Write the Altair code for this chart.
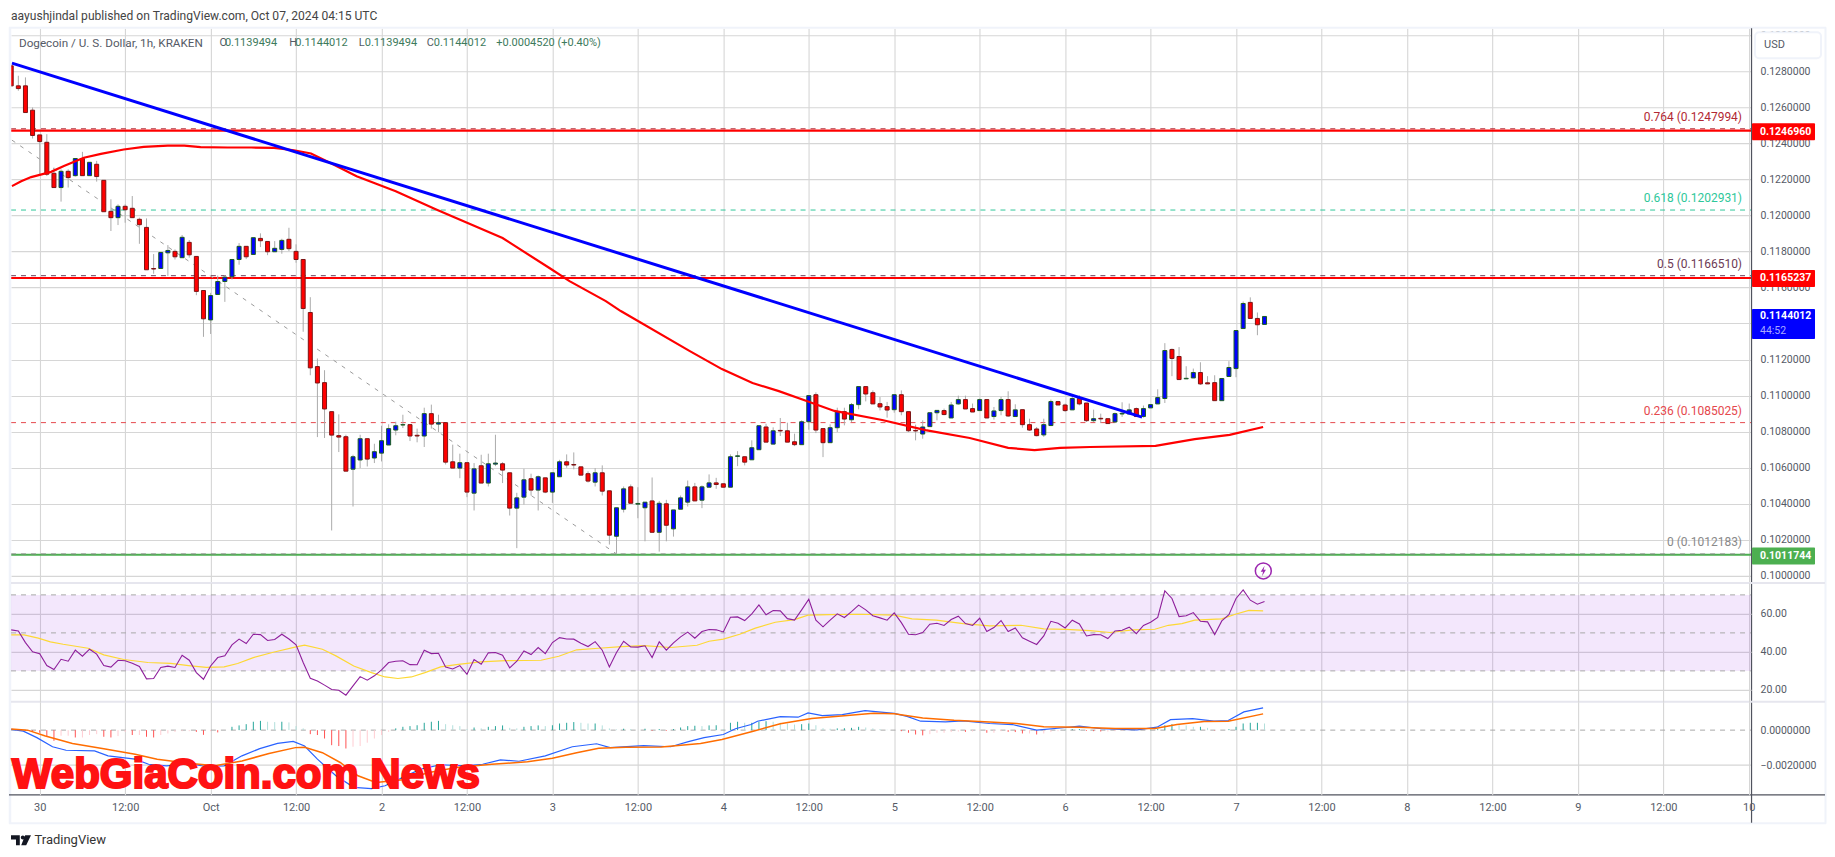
import altair as alt
import pandas as pd

# ---- candles, price x 1e5, one per hour from hour -4 (hours counted from Sep 30 00:00)
opens = [12829,12718,12718,12583,12446,12405,12233,12154,12244,12220,12315,12220,12283,12194,12022,11987,12050,12039,11978,11933,11705,11705,11792,11800,11765,11850,11772,11583,11420,11561,11633,11659,11755,11828,11783,11872,11855,11798,11811,11867,11800,11755,11461,11161,11072,10911,10778,10772,10592,10643,10761,10654,10681,10726,10809,10837,10839,10780,10776,10900,10842,10850,10633,10598,10628,10459,10611,10515,10620,10622,10572,10376,10437,10539,10476,10544,10465,10550,10633,10618,10605,10567,10520,10572,10472,10220,10370,10494,10398,10378,10416,10242,10400,10261,10370,10409,10494,10420,10492,10516,10511,10492,10663,10661,10644,10700,10826,10731,10807,10805,10744,10728,10855,11005,10817,10739,10822,10911,10866,10950,11050,11016,10955,10939,10922,11005,10911,10807,10787,10828,10905,10917,10876,10954,10978,10928,10917,10978,10884,10917,10978,10884,10922,10839,10815,10782,10834,10967,10948,10921,10984,10959,10861,10874,10872,10854,10898,10898,10928,10884,10932,10954,10984,11256,11217,11093,11098,11128,11071,11072,10972,11106,11150,11372,11517,11428,11395]
highs = [12829,12774,12765,12598,12446,12450,12265,12255,12255,12315,12352,12294,12302,12194,12089,12061,12061,12107,11987,11983,11785,11794,11835,11811,11891,11863,11772,11583,11570,11666,11668,11755,11846,11828,11876,11900,11855,11857,11870,11931,11839,11755,11546,11206,11141,10911,10896,10783,10672,10783,10761,10733,10833,10841,10855,10894,10839,10817,10933,10950,10894,10850,10728,10678,10628,10626,10672,10678,10783,10631,10572,10461,10594,10567,10557,10544,10572,10644,10674,10685,10605,10580,10598,10613,10472,10378,10496,10507,10492,10409,10546,10416,10422,10366,10446,10529,10516,10502,10563,10544,10511,10674,10692,10661,10752,10833,10844,10824,10876,10850,10789,10863,11000,11018,10817,10841,10933,10933,10959,11050,11050,11029,10992,10965,11005,11029,10911,10839,10863,10905,10918,10928,10965,11000,11000,10956,10984,10978,10937,10993,11024,10952,10922,10872,10826,10872,10978,10971,10956,11002,11002,10959,10922,10900,10872,10906,10963,10956,10934,10945,10950,11035,11291,11261,11269,11163,11150,11185,11108,11113,11095,11191,11361,11522,11545,11461,11439]
lows = [12718,12691,12570,12426,12228,12218,12154,12076,12154,12215,12220,12220,12187,12020,11913,11946,11959,11987,11842,11698,11676,11704,11663,11755,11765,11765,11557,11326,11342,11561,11520,11644,11726,11757,11783,11824,11779,11798,11787,11802,11737,11354,11113,10770,10765,10252,10687,10581,10385,10598,10607,10626,10635,10726,10780,10820,10748,10741,10715,10817,10798,10618,10598,10542,10437,10363,10515,10496,10609,10515,10335,10154,10396,10446,10363,10459,10405,10550,10600,10591,10559,10518,10496,10446,10174,10122,10352,10403,10320,10192,10242,10135,10192,10218,10370,10385,10416,10376,10492,10483,10492,10492,10609,10613,10644,10700,10742,10731,10776,10742,10720,10728,10811,10792,10659,10739,10798,10835,10853,10924,10968,10954,10918,10878,10905,10891,10798,10752,10761,10828,10863,10891,10876,10950,10926,10909,10917,10876,10867,10891,10882,10884,10822,10804,10774,10771,10834,10948,10909,10921,10946,10854,10854,10848,10845,10848,10882,10898,10884,10878,10932,10954,10959,11108,11089,11093,11098,11059,11065,10972,10972,11106,11102,11372,11428,11335,11395]
closes = [12718,12703,12570,12443,12409,12228,12154,12244,12209,12315,12220,12294,12215,12020,11987,12050,12031,11987,11948,11698,11702,11794,11805,11770,11878,11781,11578,11426,11555,11633,11657,11755,11828,11770,11876,11859,11798,11817,11861,11815,11755,11483,11154,11070,10926,10781,10770,10581,10661,10761,10648,10689,10750,10817,10833,10839,10776,10776,10900,10842,10850,10631,10598,10628,10465,10594,10515,10622,10626,10587,10376,10433,10533,10476,10550,10465,10572,10633,10615,10615,10559,10526,10572,10470,10226,10378,10483,10403,10402,10409,10242,10403,10281,10366,10433,10494,10416,10494,10516,10507,10492,10661,10666,10631,10711,10833,10742,10805,10804,10742,10728,10855,11000,10809,10739,10822,10911,10870,10950,11050,11009,10954,10937,10920,11005,10911,10805,10804,10826,10905,10918,10895,10948,10978,10926,10909,10978,10876,10915,10978,10887,10921,10839,10809,10778,10839,10967,10948,10917,10984,10954,10861,10872,10871,10845,10900,10902,10921,10884,10928,10950,10989,11250,11206,11089,11096,11128,11065,11065,10972,11095,11156,11361,11511,11428,11393,11439]

# ---- moving average on price: hour, price x 1e5
ma_h = [-3.9,-2.6,-1.2,0,1.6,3.4,6.2,8.6,11.8,14.6,18,20.3,22.6,26.4,29.7,32.9,35.7,38.1,40.9,44.5,50,55.6,60.1,65,71.8,74.4,79.5,81.6,91.3,95.8,100.1,103.8,107.7,111.6,118.3,124.4,130.6,136,139.7,143.3,147.5,156.7,162.2,167.1,171.8]
ma_v = [12162,12189,12212,12224,12241,12273,12319,12341,12365,12380,12387,12387,12378,12376,12376,12374,12361,12343,12289,12217,12134,12034,11957,11874,11702,11635,11524,11469,11247,11147,11070,11025,10970,10915,10865,10809,10765,10710,10698,10710,10715,10721,10759,10782,10826]

# ---- trend line and fib diagonal: hour, price
trend_h = [-3.9, 154.8]
trend_p = [0.12844, 0.10881]
diag_h = [-3.9, 81]
diag_p = [0.12417, 0.10122]

# ---- horizontal levels
fib_levels = [0.1247994, 0.1202931, 0.1166510, 0.1085025, 0.1012183]
fib_texts = ["0.764 (0.1247994)", "0.618 (0.1202931)", "0.5 (0.1166510)", "0.236 (0.1085025)", "0 (0.1012183)"]
fib_colors = ["#b22833", "#2fc79a", "#6d3b55", "#e5484d", "#8a8a8a"]
solid_levels = [0.1246960, 0.1165237, 0.1011744]
solid_colors = ["#ff0000", "#ff0000", "#4caf50"]

# ---- RSI per hour from hour -4
rsi = [51.6,51.0,44.9,40.0,39.0,32.8,30.7,36.1,35.1,40.9,37.7,41.4,38.8,32.8,32.0,35.6,35.3,34.0,32.3,25.8,26.0,31.8,32.5,31.8,38.2,35.6,29.1,25.6,32.6,37.0,37.9,43.7,46.7,44.4,49.3,49.1,46.0,46.5,49.3,46.8,43.7,34.4,26.1,24.7,22.5,20.2,19.8,17.2,22.1,27.0,25.1,27.4,30.5,34.4,35.1,35.3,33.3,33.2,40.9,39.1,39.3,32.0,31.0,32.8,28.2,36.0,33.5,39.5,39.7,38.2,31.6,35.1,40.5,38.6,42.3,39.1,44.9,47.5,46.8,46.7,44.6,42.8,45.4,40.9,32.1,39.7,45.6,42.6,42.5,43.2,37.0,45.3,40.9,44.7,47.9,50.4,47.2,50.7,51.8,51.6,50.5,58.2,58.4,56.5,60.0,64.7,59.5,61.8,61.6,57.5,56.7,62.1,67.7,56.7,53.2,56.7,60.0,58.1,61.2,64.6,62.1,59.0,57.9,56.7,60.5,55.4,49.3,49.0,50.2,54.6,55.1,53.9,57.0,58.8,54.9,53.9,57.7,50.7,52.8,56.5,50.7,52.6,47.4,45.6,43.9,48.4,56.1,55.1,52.6,56.7,54.7,48.4,49.1,49.0,47.0,51.0,51.4,53.0,49.6,53.9,55.6,58.1,72.1,68.1,58.6,59.0,60.7,56.1,55.8,49.1,56.3,59.6,68.1,72.6,67.2,65.1,66.5]
rsi_ma_h = [-4,-2.2,-.2,1.5,3.3,6.8,9,11.8,15.2,18.4,20.9,23.4,25.9,27.8,30,32.8,36,37.2,39.7,41.6,44.1,46.6,48.5,50.3,52.2,54.1,56.3,58.5,61.9,65.4,70.4,72.9,75.4,78.5,81.7,84.8,88.6,92.3,94,96,98.3,100.5,103.3,106,107.9,110.9,115.2,120,122.5,125.9,129.7,133.4,137.8,141,144.1,147.5,150.3,153.5,156.6,158.5,160.4,162.2,166,167.9,169.8,171.8]
rsi_ma_v = [48.9,48.9,47.2,45.3,44.0,41.9,38.4,36.0,34.4,33.9,32.8,31.8,32.1,33.9,37.0,39.8,42.6,43.5,41.4,37.9,32.6,29.1,26.8,26.0,26.8,29.1,32.1,33.3,34.7,35.4,35.6,37.7,41.1,41.9,42.8,43.3,42.3,43.5,45.6,46.7,49.3,52.5,55.6,57.0,59.3,59.6,59.8,59.3,57.4,56.7,54.9,53.7,54.0,52.1,51.8,51.2,50.2,51.6,51.9,54.0,54.9,56.7,57.4,59.8,61.8,61.6]

# ---- MACD, x 1e5
macd_h = [-4,-2.3,-.4,1.8,3.7,7.7,9.6,13.4,15.3,17.8,20.9,23.4,25.9,28.4,30.9,33.4,35.6,37.2,39,41.6,44.1,46.6,48.5,51,53.5,56.3,59.7,62.2,64.7,67.3,71,74.8,78.2,80.1,84.8,88.6,91.1,93.3,96,97.7,99.9,100.8,104,106.5,107.9,109.9,112.7,115.9,120,121.8,123.7,127.2,129.7,133.4,136.6,140,144.1,146,149.1,154.1,156.9,158.8,161.9,164.9,166.9,169.1,171.8]
macd_v = [4,-6,-43,-95,-115,-119,-147,-166,-195,-204,-191,-208,-204,-147,-106,-76,-64,-91,-166,-261,-327,-334,-318,-270,-223,-198,-204,-195,-170,-178,-147,-95,-78,-100,-89,-95,-66,-43,-25,8,32,51,77,74,98,83,89,112,96,79,51,47,53,38,32,0,15,23,8,2,17,60,66,51,55,104,127]
signal_h = [-4,-1.7,.8,4.6,9,13.4,16.5,20.9,24.6,28.4,32.2,35.9,37.2,39.7,42.2,44.7,47.2,51,54.7,58.5,63.5,68.5,72,75.4,78.5,82.3,87.3,92.8,95.8,100.2,104,108.4,113.4,117.1,120,124,128.4,133.4,137.2,141,146,151,156.6,159.7,163.5,166.9,171.8]
signal_v = [6,0,-34,-76,-106,-138,-166,-189,-204,-176,-134,-100,-98,-129,-185,-261,-299,-284,-242,-214,-195,-181,-161,-129,-104,-98,-96,-77,-53,-6,36,66,83,96,94,70,57,47,38,19,17,9,9,32,49,51,93]
hist = [0,0,-4,-10,-15,-34,-61,-32,-32,-42,-42,-28,-23,-38,-42,-34,-10,-28,-28,-38,-42,-28,-19,-10,-6,-6,-10,-27,-6,-13,0,19,27,34,48,53,48,46,48,44,23,10,-23,-28,-48,-86,-91,-105,-95,-91,-72,-48,-28,-10,10,19,23,28,42,48,53,34,28,23,6,15,10,19,23,27,13,10,19,23,27,23,28,38,42,46,42,38,38,27,10,4,8,6,0,8,-4,6,-4,6,15,23,25,23,27,28,6,42,48,42,42,48,51,48,42,38,32,34,38,28,11,8,10,11,13,19,15,10,6,2,0,-6,-15,-25,-30,-23,-15,-15,-11,-8,-10,-8,-4,-15,-15,-6,-10,-11,-19,-19,-25,-19,-11,-6,2,6,6,-4,-6,-8,-8,-6,-4,-4,-2,0,2,6,28,34,28,27,19,19,13,-2,0,6,19,38,42,42,38]

# ---- axis labels
time_ticks = [0,12,24,36,48,60,72,84,96,108,120,132,144,156,168,180,192,204,216,228,240]
time_labels = ["30","12:00","Oct","12:00","2","12:00","3","12:00","4","12:00","5","12:00","6","12:00","7","12:00","8","12:00","9","12:00","10"]
price_ticks = [0.100,0.102,0.104,0.106,0.108,0.110,0.112,0.114,0.116,0.118,0.120,0.122,0.124,0.126,0.128,0.130]

FONT = "Roboto"
TXT = "#555a66"
GRID = "#d6d6d6"
PW, H1, H2, H3 = 1741, 555, 119, 93

n = len(opens)
cdf = pd.DataFrame({
    "h": [i - 4 for i in range(n)],
    "o": [v / 1e5 for v in opens], "hi": [v / 1e5 for v in highs],
    "lo": [v / 1e5 for v in lows], "c": [v / 1e5 for v in closes]})
cdf["top"] = cdf[["o", "c"]].max(axis=1)
cdf["bot"] = cdf[["o", "c"]].min(axis=1)
up = cdf[cdf.c >= cdf.o]
down = cdf[cdf.c < cdf.o]

xs = alt.Scale(domain=[-4.03, 240.32], nice=False, zero=False, padding=0)
ys = alt.Scale(domain=[0.099612, 0.130377], nice=False, zero=False)
rs = alt.Scale(domain=[13.7, 76.3], nice=False, zero=False)
ms = alt.Scale(domain=[-0.003697, 0.001617], nice=False, zero=False)
X = alt.X("h:Q", scale=xs)
one = pd.DataFrame({"a": [0]})


def label(text, px, py, color=TXT, size=12, weight="normal", align="left", font=FONT, **kw):
    return alt.Chart(one).mark_text(text=text, color=color, fontSize=size, fontWeight=weight,
                                    align=align, baseline="middle", font=font, **kw).encode(
        x=alt.value(px), y=alt.value(py))


def hline(x1, x2, y, color, width=1.0, **kw):
    return alt.Chart(one).mark_rule(color=color, strokeWidth=width, **kw).encode(
        x=alt.value(x1), x2=alt.value(x2), y=alt.value(y))


def vline(x, y1, y2, color, width=1.0, **kw):
    return alt.Chart(one).mark_rule(color=color, strokeWidth=width, **kw).encode(
        x=alt.value(x), y=alt.value(y1), y2=alt.value(y2))


def xgrid(labels=False):
    if labels:
        expr = "{" + ",".join(f"'{t}':'{l}'" for t, l in zip(time_ticks, time_labels)) + "}[datum.value]"
        return alt.Axis(values=time_ticks, tickCount=40, grid=True, gridColor=GRID, gridWidth=1.1, domain=False, ticks=False,
                        labels=True, labelExpr=expr, labelFont=FONT, labelFontSize=11,
                        labelColor=TXT, labelPadding=7, labelOverlap=False, labelFlush=False, title=None)
    return alt.Axis(values=time_ticks, tickCount=40, grid=True, gridColor=GRID, gridWidth=1.1, domain=False, ticks=False,
                    labels=False, title=None)


def yaxis(values, fmt, grid=True):
    return alt.Axis(values=values, tickCount=40, orient="right", format=fmt, grid=grid, gridColor=GRID, gridWidth=1.1,
                    domain=False, ticks=False, labelFont=FONT, labelFontSize=10.5, labelColor=TXT,
                    labelPadding=9, labelOverlap=False, title=None)


def base(scale, yax, xax):
    return alt.Chart(pd.DataFrame({"h": [0], "v": [scale.domain[0]]})).mark_point(opacity=0).encode(
        x=alt.X("h:Q", scale=xs, axis=xax), y=alt.Y("v:Q", scale=scale, axis=yax))


def series(h, v, color, width, scale, **kw):
    df = pd.DataFrame({"h": h, "v": v})
    return alt.Chart(df).mark_line(color=color, strokeWidth=width, clip=True, **kw).encode(
        x=X, y=alt.Y("v:Q", scale=scale))


# ================ main pane
Yp = lambda f: alt.Y(f"{f}:Q", scale=ys)
layers = [base(ys, yaxis(price_ticks, ".7f"), xgrid())]

# levels
for p, col in zip(solid_levels, solid_colors):
    layers.append(alt.Chart(pd.DataFrame({"p": [p]})).mark_rule(color=col, strokeWidth=2.2).encode(
        x=alt.value(0), x2=alt.value(PW), y=Yp("p")))
for p, t, col in zip(fib_levels, fib_texts, fib_colors):
    layers.append(alt.Chart(pd.DataFrame({"p": [p]})).mark_rule(color=col, strokeWidth=1, strokeDash=[5, 5]).encode(
        x=alt.value(0), x2=alt.value(PW), y=Yp("p")))
    layers.append(alt.Chart(pd.DataFrame({"p": [p], "t": [t]})).mark_text(
        color=col, font=FONT, fontSize=12, align="right", baseline="middle", dy=-12).encode(
        x=alt.value(1732), y=Yp("p"), text="t:N"))

# diagonal
layers.append(series(diag_h, diag_p, "#9b9b9b", 1, ys, strokeDash=[4, 6]))

# candles
layers.append(alt.Chart(cdf).mark_rule(color="#ababab", strokeWidth=1, clip=True).encode(x=X, y=Yp("hi"), y2="lo:Q"))
layers.append(alt.Chart(up).mark_bar(size=4, color="#0000ff", stroke="#1b5e20", strokeWidth=1, clip=True).encode(
    x=X, y=Yp("top"), y2="bot:Q"))
layers.append(alt.Chart(down).mark_bar(size=4, color="#ff0000", stroke="#7b1414", strokeWidth=1, clip=True).encode(
    x=X, y=Yp("top"), y2="bot:Q"))

# MA + trend
layers.append(series(ma_h, [v / 1e5 for v in ma_v], "#ff0000", 2.2, ys))
layers.append(series(trend_h, trend_p, "#0000ff", 3, ys))

# lightning marker
layers.append(alt.Chart(one).mark_point(shape="circle", size=254, color="#9c27b0", strokeWidth=1.5, filled=False, opacity=1).encode(
    x=alt.value(1253), y=alt.value(543)))
layers.append(alt.Chart(one).mark_point(shape="M0.25 -1 L-0.5 0.15 H-0.05 L-0.25 1 L0.5 -0.2 H0.05 Z", size=110,
                                        color="#9c27b0", filled=True, opacity=1).encode(
    x=alt.value(1253), y=alt.value(543)))

# frame
layers += [
    hline(-2, -1.9, -19, "#ffffff", 0.01),
    vline(-1, -1, 796, "#f0f3fa", 2.5),
    hline(-2, 1816, -0.5, "#f0f3fa", 2),
    vline(1815.5, -1, 796, "#f0f3fa", 2),
    hline(-2, 1816, 795.5, "#f0f3fa", 2),
    vline(PW + 0.5, 0, 795, "#50535e", 1.2),
    hline(-2, 1815, 767, "#50535e", 1.2),
    hline(0, 1815, 555, "#e6e6ee", 2),
    hline(0, 1815, 674, "#e6e6ee", 2),
]

# USD button
layers.append(alt.Chart(one).mark_rect(fill="#ffffff", stroke="#f0f3fa", strokeWidth=2, cornerRadius=4).encode(
    x=alt.value(1745), x2=alt.value(1811), y=alt.value(4), y2=alt.value(30)))
layers.append(label("USD", 1754, 17, size=11))

# price tags
for p, col, hi, lo, t in [(0.1246960, "#ff0000", 0.1251, 0.12416, "0.1246960"),
                          (0.1165237, "#ff0000", 0.11697, 0.11603, "0.1165237"),
                          (0.1144012, "#0000ff", 0.11480, 0.11314, "0.1144012"),
                          (0.1011744, "#4caf50", 0.10157, 0.10064, "0.1011744")]:
    df = pd.DataFrame({"hi": [hi], "lo": [lo], "p": [(hi + lo) / 2 if col != "#0000ff" else p], "t": [t]})
    layers.append(alt.Chart(df).mark_rect(color=col, cornerRadius=1).encode(
        x=alt.value(1742), x2=alt.value(1805), y=Yp("hi"), y2="lo:Q"))
    layers.append(alt.Chart(df).mark_text(color="#ffffff", font=FONT, fontSize=10.5, fontWeight="bold",
                                          align="left", baseline="middle").encode(
        x=alt.value(1750), y=Yp("p"), text="t:N"))
layers.append(label("44:52", 1750, 303, color="#a8a8ff", size=10.5))

# texts
layers.append(label("aayushjindal published on TradingView.com, Oct 07, 2024 04:15 UTC", 0, -12, color="#444444", size=12.1))
layers.append(label("Dogecoin / U. S. Dollar, 1h, KRAKEN", 8, 14.5, size=11.7))
VAL = "#3d7a5c"
for t, px, col in [("O", 208.5, TXT), ("0.1139494", 214, VAL), ("H", 278.5, TXT), ("0.1144012", 284.5, VAL),
                   ("L", 348, TXT), ("0.1139494", 354, VAL), ("C", 416, TXT), ("0.1144012", 423, VAL),
                   ("+0.0004520 (+0.40%)", 485.5, VAL)]:
    layers.append(label(t, px, 14.5, color=col, size=11))
layers.append(label("TradingView", 23.5, 812.5, color="#333333", size=13))
layers.append(alt.Chart(one).mark_point(
    shape="M-1 -0.5 H-0.12 V0.5 H-0.5 V-0.08 H-1 Z M-0.02 -0.28 A0.2 0.2 0 1 1 -0.02 -0.27 Z M0.42 -0.5 H1 L0.52 0.5 H0.02 Z",
    size=400, color="#131722", filled=True, opacity=1).encode(x=alt.value(10), y=alt.value(812.5)))

main = alt.layer(*layers).properties(width=PW, height=H1)

# ================ RSI pane
Yr = lambda f: alt.Y(f"{f}:Q", scale=rs)
rsi_layers = [
    base(rs, yaxis([20, 40, 60], ".2f"), xgrid()),
    alt.Chart(pd.DataFrame({"hi": [70], "lo": [30]})).mark_rect(color="#9326e6", opacity=0.11).encode(
        x=alt.value(0), x2=alt.value(PW), y=Yr("hi"), y2="lo:Q"),
]
for lv in [70, 50, 30]:
    rsi_layers.append(alt.Chart(pd.DataFrame({"p": [lv]})).mark_rule(color="#a8a8a8", strokeWidth=1, strokeDash=[5, 5]).encode(
        x=alt.value(0), x2=alt.value(PW), y=Yr("p")))
rsi_layers.append(series(rsi_ma_h, rsi_ma_v, "#fdd835", 1.2, rs))
rsi_layers.append(series([i - 4 for i in range(len(rsi))], rsi, "#8e1f9b", 1.1, rs))
rsi_chart = alt.layer(*rsi_layers).properties(width=PW, height=H2)

# ================ MACD pane
hdf = pd.DataFrame({"h": [i - 4 for i in range(len(hist))], "v": [v / 1e5 for v in hist]})
prev = hdf.v.shift(1).fillna(0)
hdf["col"] = [("#26a69a" if v >= q else "#b2dfdb") if v >= 0 else ("#ff5252" if v < q else "#ffcdd2")
              for v, q in zip(hdf.v, prev)]
hdf["z"] = 0.0
Ym = lambda f: alt.Y(f"{f}:Q", scale=ms)
macd_layers = [
    base(ms, yaxis([0, -0.002], ".7f", grid=False), xgrid(True)),
    alt.Chart(pd.DataFrame({"p": [-0.002]})).mark_rule(color=GRID, strokeWidth=1.1).encode(
        x=alt.value(0), x2=alt.value(PW), y=Ym("p")),
    alt.Chart(pd.DataFrame({"p": [0.0]})).mark_rule(color="#a8a8a8", strokeWidth=1, strokeDash=[5, 5]).encode(
        x=alt.value(0), x2=alt.value(PW), y=Ym("p")),
    alt.Chart(hdf).mark_rule(strokeWidth=1, clip=True).encode(
        x=X, y=Ym("v"), y2="z:Q", color=alt.Color("col:N", scale=None)),
    series(macd_h, [v / 1e5 for v in macd_v], "#2962ff", 1.2, ms),
    series(signal_h, [v / 1e5 for v in signal_v], "#ff6d00", 1.5, ms),
    alt.Chart(one).mark_text(text="WebGiaCoin.com News", color="#ff1212", stroke="#ff1212", strokeWidth=2.2,
                             fontSize=42, fontWeight="bold", font="Liberation Sans", align="left",
                             baseline="alphabetic").encode(x=alt.value(1), y=alt.value(86)),
]
macd_chart = alt.layer(*macd_layers).properties(width=PW, height=H3)

chart = alt.vconcat(main, rsi_chart, macd_chart, spacing=0, bounds="flush").configure_view(stroke=None).properties(
    padding=0, background="#ffffff")
chart.save("out.html", embed_options={"renderer": "svg", "actions": False})
